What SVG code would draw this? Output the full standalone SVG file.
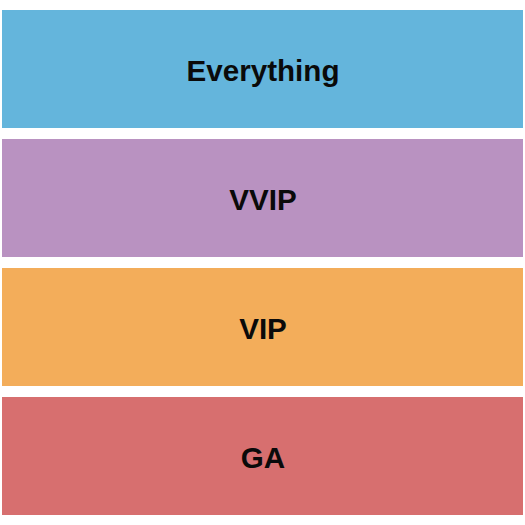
<svg xmlns="http://www.w3.org/2000/svg" width="525" height="525" viewBox="0 0 525 525">
<style>
.lbl{font-family:"Liberation Sans",Arial,sans-serif;font-weight:bold;font-size:29.6px;fill:#0a0a0a;text-anchor:middle}
</style>
<rect width="525" height="525" fill="#fff"/>
<g id="everything"><rect x="2" y="10" width="521" height="118" fill="#64B5DC"/><text class="lbl" x="263" y="81">Everything</text></g>
<g id="vvip"><rect x="2" y="139" width="521" height="118" fill="#B992C1"/><text class="lbl" x="263" y="210">VVIP</text></g>
<g id="vip"><rect x="2" y="268" width="521" height="118" fill="#F3AD5A"/><text class="lbl" x="263" y="339">VIP</text></g>
<g id="ga"><rect x="2" y="397" width="521" height="118" fill="#D76F6F"/><text class="lbl" x="263" y="468">GA</text></g>
<g id="connectors"/>
</svg>
